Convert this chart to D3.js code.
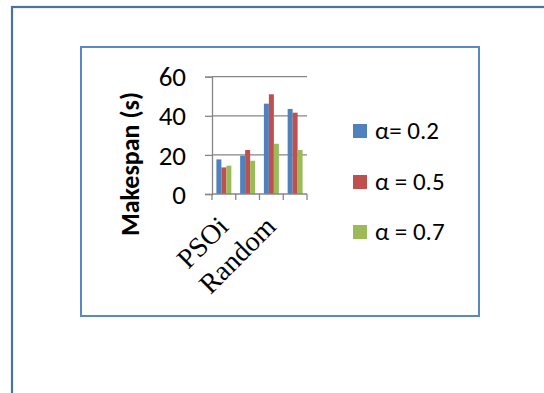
<!DOCTYPE html>
<html>
<head>
<meta charset="utf-8">
<script src="https://cdn.jsdelivr.net/npm/d3@7"></script>
<style>
  html, body { margin: 0; padding: 0; background: #fff; }
  svg { display: block; }
</style>
</head>
<body>
<svg id="chart" width="544" height="393"></svg>
<script>
// ---- data ----
const categories = ["PSOi", "PSOi (2)", "Random", "Random (2)"];
const tickLabels = ["PSOi", "", "Random", ""];   // Excel skips every other label
const seriesNames = ["α= 0.2", "α = 0.5", "α = 0.7"];
const alpha02 = [17.7, 19.6, 46.2, 43.5];
const alpha05 = [13.6, 22.5, 51.0, 41.6];
const alpha07 = [14.5, 17.0, 25.7, 22.5];
const seriesColors = ["#4F81BD", "#C0504D", "#9BBB59"];
const yTicks = [0, 20, 40, 60];
const yTitle = "Makespan (s)";

const series = [alpha02, alpha05, alpha07];

const svg = d3.select("#chart");

// outer frame (runs off the right/bottom of the picture)
svg.append("rect")
  .attr("x", 12).attr("y", 7).attr("width", 700).attr("height", 600)
  .attr("fill", "none").attr("stroke", "#4A72A8").attr("stroke-width", 2.2);

// chart box
svg.append("rect")
  .attr("x", 81).attr("y", 47).attr("width", 398).attr("height", 269)
  .attr("fill", "#fff").attr("stroke", "#5A87C6").attr("stroke-width", 2);

const plot = { left: 212, right: 307, top: 76.7, bottom: 194 };

const x = d3.scaleBand().domain(categories).range([plot.left, plot.right]).paddingInner(0).paddingOuter(0);
const y = d3.scaleLinear().domain([0, 60]).range([plot.bottom, plot.top]);

const groupW = x.bandwidth() * 0.63;
const xs = d3.scaleBand().domain(d3.range(series.length)).range([0, groupW]);

// gridlines
svg.append("g")
  .selectAll("line").data(yTicks.filter(d => d > 0)).join("line")
  .attr("x1", plot.left).attr("x2", plot.right)
  .attr("y1", d => y(d)).attr("y2", d => y(d))
  .attr("stroke", "#868686").attr("stroke-width", 1.3);

// bars
categories.forEach((c, i) => {
  series.forEach((s, k) => {
    svg.append("rect")
      .attr("x", x(c) + (x.bandwidth() - groupW) / 2 + xs(k))
      .attr("width", xs.bandwidth())
      .attr("y", y(s[i]))
      .attr("height", y(0) - y(s[i]))
      .attr("fill", seriesColors[k]);
  });
});

// y axis
const yAxis = svg.append("g")
  .attr("transform", `translate(${plot.left},0)`)
  .call(d3.axisLeft(y).tickValues(yTicks).tickSize(7).tickPadding(19));
yAxis.select(".domain").attr("stroke", "#868686").attr("stroke-width", 1.3);
yAxis.selectAll(".tick line").attr("stroke", "#868686").attr("stroke-width", 1.3);
yAxis.selectAll(".tick text")
  .attr("font-family", "Carlito, 'Liberation Sans', Arial, sans-serif")
  .attr("font-size", 27).attr("fill", "#000").attr("dy", "0.34em");

// x axis
const xAxis = svg.append("g")
  .attr("transform", `translate(0,${plot.bottom})`)
  .call(d3.axisBottom(x).tickSize(0).tickFormat((d, i) => tickLabels[i]));
xAxis.select(".domain").remove();
xAxis.append("line")
  .attr("x1", plot.left).attr("x2", plot.right)
  .attr("y1", 0).attr("y2", 0)
  .attr("stroke", "#868686").attr("stroke-width", 1.3);
// tick marks at category boundaries
xAxis.selectAll(".bnd").data(d3.range(categories.length + 1)).join("line")
  .attr("class", "bnd")
  .attr("x1", i => plot.left + i * x.step()).attr("x2", i => plot.left + i * x.step())
  .attr("y1", 0).attr("y2", 6)
  .attr("stroke", "#868686").attr("stroke-width", 1.3);
xAxis.selectAll(".tick text")
  .attr("font-family", "'Liberation Serif', 'Times New Roman', serif")
  .attr("font-size", 28).attr("fill", "#000")
  .attr("text-anchor", "end")
  .attr("dy", "0")
  .attr("transform", "translate(4,32) rotate(-45)");

// y title
svg.append("text")
  .attr("transform", `translate(139,${(88 + 240) / 2}) rotate(-90)`)
  .attr("text-anchor", "middle")
  .attr("font-family", "Carlito, 'Liberation Sans', Arial, sans-serif")
  .attr("font-weight", "bold").attr("font-size", 26)
  .text(yTitle);

// legend
const legendY = [131, 182, 232];
seriesNames.forEach((n, k) => {
  svg.append("rect")
    .attr("x", 353).attr("y", legendY[k] - 7).attr("width", 14).attr("height", 14)
    .attr("fill", seriesColors[k]);
  svg.append("text")
    .attr("x", 375).attr("y", legendY[k] + 8)
    .attr("font-family", "Carlito, 'Liberation Sans', Arial, sans-serif")
    .attr("font-size", 25).attr("fill", "#000")
    .text(n);
});
</script>
</body>
</html>
